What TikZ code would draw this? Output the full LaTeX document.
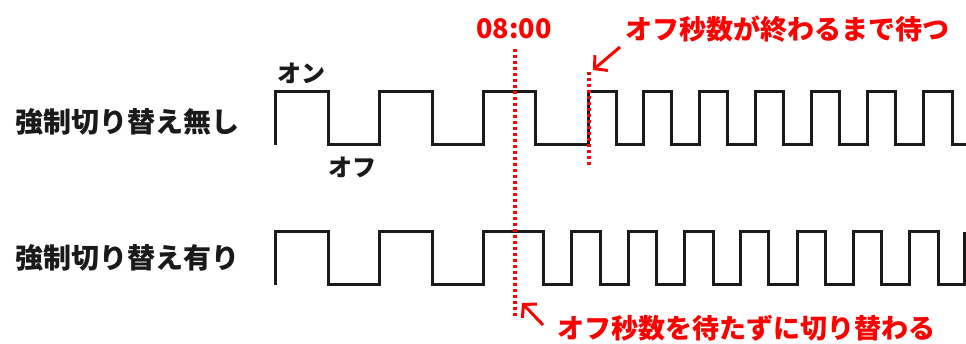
\documentclass[tikz,border=0pt]{standalone}
\usepackage{fontspec}
\setmainfont{Noto Sans CJK JP}
\usetikzlibrary{arrows.meta}
\definecolor{wavecol}{HTML}{1A1A1A}
\definecolor{alertcol}{HTML}{FF0000}
\begin{document}
\begin{tikzpicture}[x=1pt,y=-1pt,
  wave/.style={draw=wavecol,line width=3pt,line join=miter},
  marker/.style={draw=alertcol,line width=3.5pt,dash pattern=on 3pt off 3pt},
  pointer/.style={draw=alertcol,line width=3pt,-{Straight Barb[length=9pt,width=20pt]}},
  lbl/.style={font=\bfseries\fontsize{28}{30}\selectfont,text=wavecol,inner sep=0pt},
  state/.style={font=\bfseries\fontsize{24}{26}\selectfont,text=wavecol,inner sep=0pt},
  note/.style={font=\bfseries\fontsize{27}{29}\selectfont,text=alertcol,inner sep=0pt}]
\useasboundingbox (0,0) rectangle (966,344);
% labels
\node[lbl] (l1) at (127,122) {強制切り替え無し};
\node[lbl] (l2) at (127,258) {強制切り替え有り};
\node[state] (on) at (301,73) {オン};
\node[state] (off) at (352,167) {オフ};
\node[note] (time) at (514,29) {08:00};
\node[note] (wait) at (787,29) {オフ秒数が終わるまで待つ};
\node[note] (nowait) at (746,328) {オフ秒数を待たずに切り替わる};
% top waveform
\draw[wave] (275,145) -- (275,92) -| (328,145) -| (379,92) -| (432,145) -| (483,92)
  -| (535,145) -| (588,92) -| (616,145) -| (643,92) -| (671,145) -| (699,92)
  -| (727,145) -| (755,92) -| (783,145) -| (811,92) -| (839,145) -| (867,92)
  -| (895,145) -| (923,92) -| (952,145) -- (966,145);
% bottom waveform
\draw[wave] (275,285) -- (275,232) -| (328,285) -| (379,232) -| (432,285) -| (483,232)
  -| (543,285) -| (571,232) -| (600,285) -| (628,232) -| (656,285) -| (684,232)
  -| (713,285) -| (740,232) -| (768,285) -| (797,232) -| (825,285) -| (853,232)
  -| (881,285) -| (909,232) -| (938,285) -| (964,232);
% dotted markers
\coordinate (m1a) at (515,49);
\coordinate (m1b) at (515,318);
\coordinate (m2a) at (589,72);
\coordinate (m2b) at (589,165);
\draw[marker] (m1a) -- (m1b);
\draw[marker] (m2a) -- (m2b);
% arrows
\coordinate (a1) at (620,47);
\coordinate (h1) at (593,70);
\coordinate (a2) at (543,325);
\coordinate (h2) at (522,303);
\draw[pointer] (a1) -- (h1);
\draw[pointer] (a2) -- (h2);
\end{tikzpicture}
\end{document}
